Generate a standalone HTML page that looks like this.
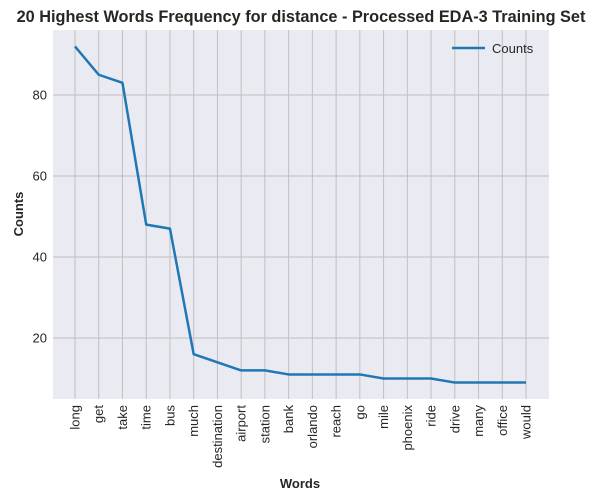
<!DOCTYPE html>
<html><head><meta charset="utf-8"><style>
body{margin:0;background:#fff;}
svg{display:block;font-family:"Liberation Sans",Arial,sans-serif;}
</style></head><body>
<svg id="chart" width="601" height="501"></svg>
<script>
const categories=["long","get","take","time","bus","much","destination","airport","station","bank","orlando","reach","go","mile","phoenix","ride","drive","many","office","would"];
const counts=[92,85,83,48,47,16,14,12,12,11,11,11,11,10,10,10,9,9,9,9];
const yTicks=[20,40,60,80];
const NS="http://www.w3.org/2000/svg";
const svg=document.getElementById('chart');
const L=53,R=549,T=30,B=399;
const x0=75,dx=(526-75)/19;
function xs(i){return x0+i*dx;}
function ys(v){return 419-v*4.05;}
function mk(tag,attrs,parent){const e=document.createElementNS(NS,tag);for(const k in attrs)e.setAttribute(k,attrs[k]);(parent||svg).appendChild(e);return e;}
const bg=mk('rect',{x:L,y:T,width:R-L,height:B-T,fill:'#eaeaf2'});


categories.forEach((c,i)=>{
  const g=mk('line',{x1:xs(i),x2:xs(i),y1:T,y2:B,stroke:'#c0c0c0','stroke-width':1});
  
  
  const t=mk('text',{x:0,y:0,transform:`translate(${xs(i)+4.5},405) rotate(-90)`,'text-anchor':'end','font-size':13,fill:'#262626'});
  t.textContent=c;
  
  
});
yTicks.forEach(v=>{
  const g=mk('line',{x1:L,x2:R,y1:ys(v),y2:ys(v),stroke:'#c0c0c0','stroke-width':1});
  
  
  const t=mk('text',{x:47,y:ys(v)+4.5,'text-anchor':'end','font-size':13,fill:'#262626'});
  t.textContent=v;
  
  
});
const line=mk('polyline',{points:counts.map((v,i)=>xs(i)+','+ys(v)).join(' '),fill:'none',stroke:'#1f77b4','stroke-width':2.5,'stroke-linejoin':'round'});


const title=mk('text',{x:301,y:22,'text-anchor':'middle','font-size':16.3,'font-weight':'bold',fill:'#262626'});
title.textContent='20 Highest Words Frequency for distance - Processed EDA-3 Training Set';


const xt=mk('text',{x:300,y:488,'text-anchor':'middle','font-size':13,'font-weight':'bold',fill:'#262626'});
xt.textContent='Words';


const yt=mk('text',{x:0,y:0,transform:'translate(23,214) rotate(-90)','text-anchor':'middle','font-size':13,'font-weight':'bold',fill:'#262626'});
yt.textContent='Counts';


const lg=mk('g',{});


mk('line',{x1:452,x2:485,y1:48,y2:48,stroke:'#1f77b4','stroke-width':2.5},lg);
const lt=mk('text',{x:492,y:53,'font-size':13,fill:'#262626'},lg);
lt.textContent='Counts';
</script>
</body></html>
